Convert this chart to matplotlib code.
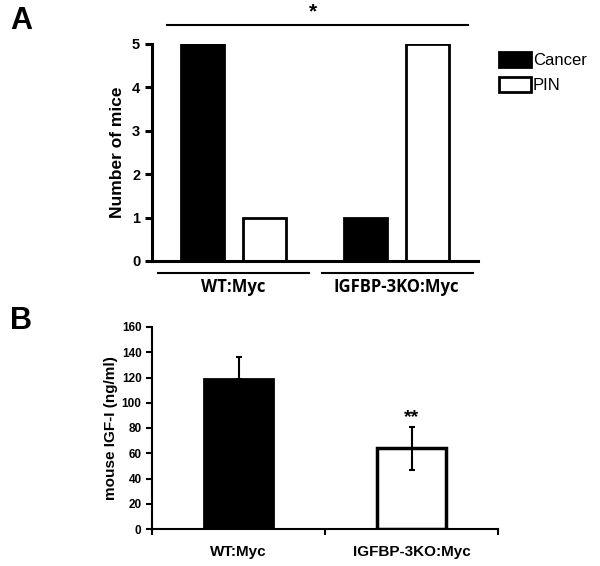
import matplotlib.pyplot as plt
import numpy as np

plt.rcParams['font.family'] = ['Liberation Sans', 'DejaVu Sans']

# panel A data
groups_a = ['WT:Myc', 'IGFBP-3KO:Myc']
cancer = [5, 1]
pin = [1, 5]

# panel B data
groups_b = ['WT:Myc', 'IGFBP-3KO:Myc']
igf = [119, 64]
igf_err = [17, 17]

W, H = 600, 566
fig = plt.figure(figsize=(6, 5.66), dpi=100)


def box(l, r, t, b):
    return [l / W, 1 - b / H, (r - l) / W, (b - t) / H]


# ---- panel A
ax = fig.add_axes(box(152, 478, 44, 261))
x = np.arange(len(groups_a))
bw = 0.26
ax.bar(x - 0.19, cancer, bw, color='black', edgecolor='black', linewidth=2, label='Cancer')
ax.bar(x + 0.19, pin, bw, color='white', edgecolor='black', linewidth=2, label='PIN')
ax.set_xlim(-0.5, 1.5)
ax.set_ylim(0, 5)
ax.set_yticks(range(6))
ax.set_xticks([])
for s in ['top', 'right']:
    ax.spines[s].set_visible(False)
for s in ['left', 'bottom']:
    ax.spines[s].set_linewidth(2.2)
ax.tick_params(axis='y', width=2.2, length=5, labelsize=10.5)
for t in ax.get_yticklabels():
    t.set_fontweight('bold')
ax.set_ylabel('Number of mice', fontsize=12.5, fontweight='bold')
ax.yaxis.set_label_coords(-0.083, 0.5)

# group underlines and labels
for lo, hi, c, name in [(-0.466, 0.466, 0, groups_a[0]), (0.54, 1.47, 1, groups_a[1])]:
    ax.plot([lo, hi], [-0.277, -0.277], color='black', lw=1.5, clip_on=False)
    ax.text(c, -0.6, name, ha='center', va='center', fontsize=12, fontweight='bold',
            family=['Open Sans', 'DejaVu Sans'])

# significance line
ax.plot([-0.405, 1.44], [5.44, 5.44], color='black', lw=1.5, clip_on=False)
ax.text(0.485, 5.74, '*', ha='center', va='center', fontsize=15, fontweight='bold')

leg = ax.legend(loc='upper left', bbox_to_anchor=(1.045, 0.995), frameon=False,
                fontsize=12, handlelength=1.9, handleheight=1.0, handletextpad=0.1,
                labelspacing=0.55, borderaxespad=0)

fig.text(10 / W, 1 - 21 / H, 'A', fontsize=22, fontweight='bold', va='center')

# ---- panel B
bx = fig.add_axes(box(152, 498, 327, 529))
xb = np.arange(len(groups_b))
bx.bar(xb[0], igf[0], 0.4, color='black', edgecolor='black', linewidth=2)
bx.bar(xb[1], igf[1], 0.4, color='white', edgecolor='black', linewidth=2.5)
bx.errorbar(xb, igf, yerr=[[0, igf_err[1]], [igf_err[0], igf_err[1]]], fmt='none',
            ecolor='black', elinewidth=1.5, capsize=2.5, capthick=1.5)
bx.set_xlim(-0.5, 1.5)
bx.set_ylim(0, 160)
bx.set_yticks(range(0, 161, 20))
bx.set_xticks([-0.5, 0.5, 1.5])
bx.set_xticklabels([])
bx.tick_params(axis='x', direction='out', length=4, width=1.5)
bx.tick_params(axis='y', length=4, width=1.5, labelsize=8.5)
for t in bx.get_yticklabels():
    t.set_fontweight('bold')
for s in ['top', 'right']:
    bx.spines[s].set_visible(False)
for s in ['left', 'bottom']:
    bx.spines[s].set_linewidth(1.5)
for i, name in enumerate(groups_b):
    bx.text(xb[i], -18.5, name, ha='center', va='center', fontsize=11, fontweight='bold')
bx.set_ylabel('mouse IGF-I (ng/ml)', fontsize=11, fontweight='bold')
bx.yaxis.set_label_coords(-0.097, 0.5)
bx.text(xb[1], igf[1] + igf_err[1] + 7, '**', ha='center', va='center', fontsize=14, fontweight='bold')

fig.text(10 / W, 1 - 321 / H, 'B', fontsize=22, fontweight='bold', va='center')

fig.savefig('out.png', dpi=100)
